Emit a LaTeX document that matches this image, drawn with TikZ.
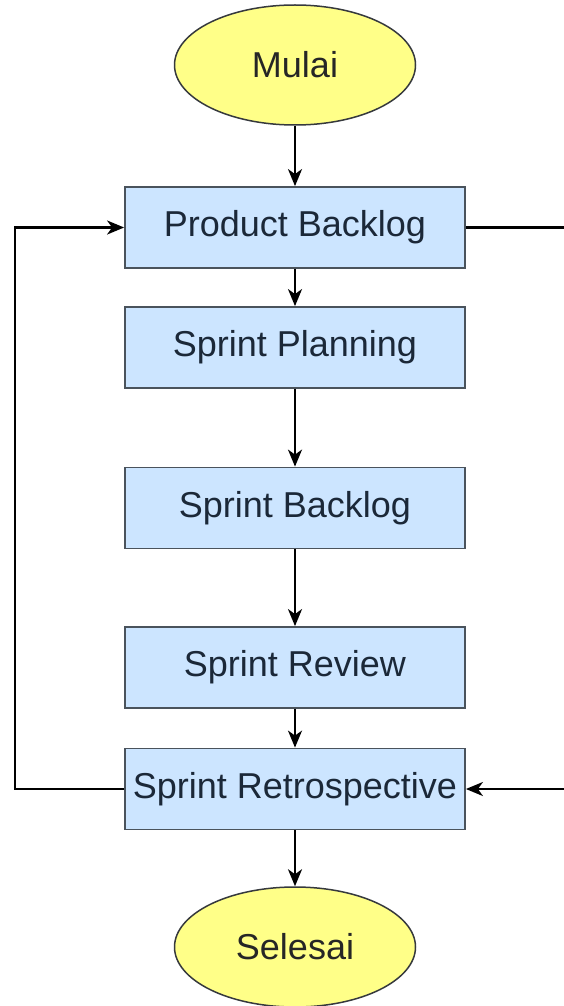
\documentclass[tikz,border=0pt]{standalone}
\usepackage{fontspec}
\setmainfont{Liberation Sans}
\usetikzlibrary{shapes.geometric,arrows.meta}
\definecolor{boxfill}{HTML}{CCE5FF}
\definecolor{boxdraw}{HTML}{4A535C}
\definecolor{ellfill}{HTML}{FFFF88}
\definecolor{elldraw}{HTML}{36393D}
\definecolor{txt}{HTML}{1B2838}
\tikzset{
  stepbox/.style={rectangle, draw=boxdraw, fill=boxfill, line width=1.8pt,
    minimum width=340pt, minimum height=81pt, inner sep=0pt,
    text=txt, font=\fontsize{36}{42}\selectfont},
  terminal/.style={ellipse, draw=elldraw, fill=ellfill, line width=1.5pt,
    minimum width=241pt, minimum height=120pt, inner sep=0pt,
    text=black!85, font=\fontsize{36}{42}\selectfont},
  flow/.style={line width=2.2pt, -{Stealth[length=17pt,width=14pt,inset=5pt]}},
}
\begin{document}
\begin{tikzpicture}[x=1pt,y=-1pt]
\useasboundingbox (0,0) rectangle (563,1006);
\fill[white] (0,0) rectangle (563,1006);
\node[terminal] (mulai) at (295,65) {Mulai};
\node[stepbox] (pb) at (295,227.5) {Product Backlog};
\node[stepbox] (sp) at (295,347.5) {Sprint Planning};
\node[stepbox] (sb) at (295,508) {Sprint Backlog};
\node[stepbox] (sr) at (295,667.5) {Sprint Review};
\node[stepbox] (rt) at (295,789) {Sprint Retrospective};
\node[terminal] (selesai) at (295,947) {Selesai};
\coordinate (lx) at (15,0);
\coordinate (rx) at (568,0);
\draw[flow] (mulai) -- (pb);
\draw[flow] (pb) -- (sp);
\draw[flow] (sp) -- (sb);
\draw[flow] (sb) -- (sr);
\draw[flow] (sr) -- (rt);
\draw[flow] (rt) -- (selesai);
\draw[flow] (rt.west) -- (rt.west -| lx) |- (pb.west);
\draw[flow] (pb.east) -- (pb.east -| rx) |- (rt.east);
\end{tikzpicture}
\end{document}
